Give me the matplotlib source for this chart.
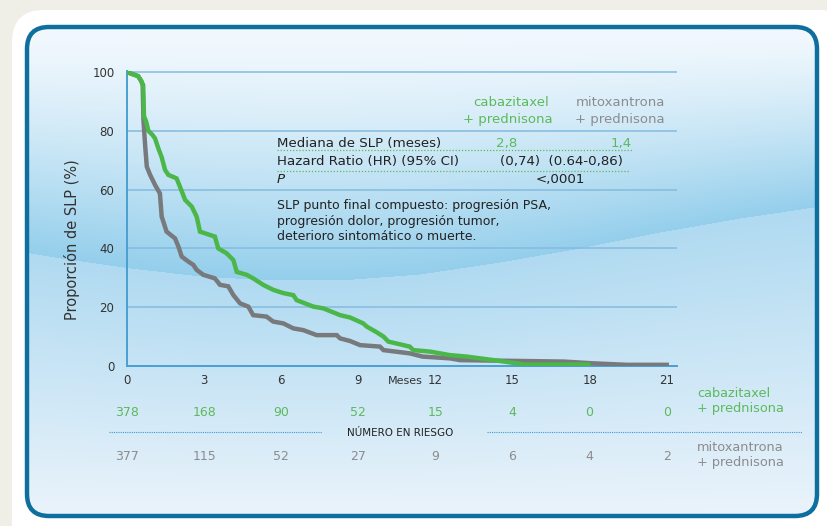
import numpy as np
import matplotlib
matplotlib.use('Agg')
import matplotlib.pyplot as plt
from matplotlib.patches import FancyBboxPatch
from matplotlib.transforms import blended_transform_factory


# progression-free survival curves (months, %)
cab_t = [0, 0.2, 0.43, 0.55, 0.63, 0.66, 0.75, 0.83, 1.0, 1.09, 1.22, 1.35, 1.48, 1.61, 1.93, 2.06,
         2.26, 2.52, 2.71, 2.84, 3.42, 3.55, 3.88, 4.14, 4.27, 4.66, 4.91, 5.3, 5.69, 6.08,
         6.47, 6.6, 7.25, 7.64, 8.29, 8.68, 9.19, 9.33, 9.71, 9.98, 10.17, 11.0, 11.14,
         11.79, 12.57, 13.22, 14.26, 15.16, 15.42, 17.95]
cab_s = [100, 99.3, 98.6, 97, 95.5, 85, 83, 80, 78.5, 77.4, 74, 71, 66.7, 65, 63.8, 61,
         56.5, 54.2, 50.8, 45.7, 44, 40, 38.3, 36, 32, 31, 29.8, 27.6, 25.9, 24.8,
         24.1, 22.4, 20.2, 19.6, 17.3, 16.5, 14.5, 13.4, 11.5, 10, 8.3, 6.6, 5.4,
         4.9, 3.7, 3.2, 2.0, 0.9, 0.5, 0.5]

mit_t = [0, 0.2, 0.43, 0.55, 0.61, 0.64, 0.7, 0.77, 0.9, 1.09, 1.28, 1.35, 1.54, 1.87, 2.0, 2.13,
         2.39, 2.58, 2.71, 2.97, 3.42, 3.62, 3.94, 4.14, 4.4, 4.72, 4.91, 5.43, 5.69, 6.08,
         6.47, 6.86, 7.38, 8.16, 8.29, 8.68, 9.07, 9.84, 9.98, 11.0, 11.5, 12.57, 12.96, 17.0,
         18.15, 19.45, 21.0]
mit_s = [100, 99.3, 98.6, 97, 95.5, 83.7, 75.7, 67.8, 65, 61.6, 58.7, 50.8, 45.7, 43.4, 40.6, 37.2,
         35.5, 34.4, 32.7, 31, 29.8, 27.6, 27.1, 24.1, 21.3, 20.2, 17.3, 16.8, 15.1, 14.5,
         12.8, 12.2, 10.5, 10.5, 9.4, 8.5, 7.1, 6.6, 5.4, 4.3, 3.2, 2.6, 2.0, 1.5,
         0.9, 0.4, 0.4]

risk_months = [0, 3, 6, 9, 12, 15, 18, 21]
cab_risk = [378, 168, 90, 52, 15, 4, 0, 0]
mit_risk = [377, 115, 52, 27, 9, 6, 4, 2]

x_ticks = [0, 3, 6, 9, 12, 15, 18, 21]
y_ticks = [0, 20, 40, 60, 80, 100]

GREEN = '#4cb749'
GREEN_TXT = '#5cba5c'
GRAY = '#78797c'
GRAY_TXT = '#8b8c8e'
BLUE = '#0e6f9f'
W, H = 827, 526

fig = plt.figure(figsize=(W / 100, H / 100), dpi=100, facecolor='#efeee7')

# background: white card + blue rounded frame with gradient fill
bg = fig.add_axes([0, 0, 1, 1])
bg.set_xlim(0, W)
bg.set_ylim(H, 0)
bg.axis('off')
bg.add_patch(FancyBboxPatch((12, 10), 840, 560, boxstyle='round,pad=0,rounding_size=32',
                            fc='white', ec='none'))
frame = FancyBboxPatch((27, 27), 790, 489, boxstyle='round,pad=0,rounding_size=22',
                       fc='none', ec=BLUE, lw=3.2, zorder=3)
bg.add_patch(frame)

yy, xx = np.mgrid[0:H, 0:W].astype(float)
edge = np.interp(xx[0], [0, 60, 130, 200, 270, 340, 420, 500, 580, 660, 740, 827],
                 [248, 258, 268, 276, 280, 280, 274, 262, 248, 232, 218, 205])
edge = np.broadcast_to(edge, (H, W))
top_c = np.array([0.95, 0.975, 0.995])
dark_c = np.array([0.58, 0.81, 0.925])
low_c = np.array([0.69, 0.855, 0.945])
bot_c = np.array([0.92, 0.955, 0.985])
t_up = np.clip((yy - 28) / (edge - 28), 0, 1)[..., None] ** 1.3
t_dn = np.clip((yy - edge) / (516 - edge), 0, 1)[..., None]
img = np.where((yy < edge)[..., None],
               top_c + (dark_c - top_c) * t_up,
               low_c + (bot_c - low_c) * t_dn)
im = bg.imshow(img, extent=(0, W, H, 0), aspect='auto', zorder=1)
im.set_clip_path(frame)

# chart
ax = fig.add_axes([127 / W, (H - 366) / H, 550 / W, (366 - 70.5) / H], zorder=2)
ax.patch.set_alpha(0)
ax.set_xlim(0, 21.4)
ax.set_ylim(0, 100.5)
ax.set_xticks(x_ticks)
ax.set_yticks(y_ticks)
for y in y_ticks[1:]:
    ax.axhline(y, color='#84bbdf', lw=1.1, zorder=1)
for s in ['top', 'right']:
    ax.spines[s].set_visible(False)
for s in ['left', 'bottom']:
    ax.spines[s].set_color('#4a9fd2')
    ax.spines[s].set_linewidth(1.4)
ax.tick_params(axis='x', length=0, pad=6, labelsize=8.5, colors='#333333')
ax.tick_params(axis='y', length=0, pad=9, labelsize=8.5, colors='#333333')

ax.plot(mit_t, mit_s, color=GRAY, lw=3.2, zorder=3, solid_joinstyle='miter')
ax.plot(cab_t, cab_s, color=GREEN, lw=3.2, zorder=4, solid_joinstyle='miter')

# overlay for text, in pixel coordinates
tx = fig.add_axes([0, 0, 1, 1], zorder=5)
tx.set_xlim(0, W)
tx.set_ylim(H, 0)
tx.axis('off')
tx.patch.set_alpha(0)

fig.text(72 / W, 1 - 240 / H, 'Proporción de SLP (%)', rotation=90, ha='center', va='center',
         fontsize=10.5, color='#333333')
tx.text(405, 381, 'Meses', ha='center', va='center', fontsize=8, color='#333333')

# table
tx.text(511, 103, 'cabazitaxel', ha='center', va='center', fontsize=9.5, color=GREEN_TXT)
tx.text(508, 119, '+ prednisona', ha='center', va='center', fontsize=9.5, color=GREEN_TXT)
tx.text(620, 103, 'mitoxantrona', ha='center', va='center', fontsize=9.5, color=GRAY_TXT)
tx.text(620, 119, '+ prednisona', ha='center', va='center', fontsize=9.5, color=GRAY_TXT)

tx.text(277, 143, 'Mediana de SLP (meses)', ha='left', va='center', fontsize=9.6, color='#222222')
tx.text(507, 143, '2,8', ha='center', va='center', fontsize=9.6, color=GREEN_TXT)
tx.text(632, 143, '1,4', ha='right', va='center', fontsize=9.6, color=GREEN_TXT)
tx.plot([277, 632], [150, 150], ls=(0, (1, 1.5)), color=GREEN_TXT, lw=0.9)
tx.text(277, 161.5, 'Hazard Ratio (HR) (95% CI)', ha='left', va='center', fontsize=9.6, color='#222222')
tx.text(500, 161.5, '(0,74)  (0.64-0,86)', ha='left', va='center', fontsize=9.6, color='#222222')
tx.plot([277, 630], [171, 171], ls=(0, (1, 1.5)), color=GREEN_TXT, lw=0.9)
tx.text(277, 179.5, 'P', ha='left', va='center', fontsize=9.6, style='italic', color='#222222')
tx.text(560, 179.5, '<,0001', ha='center', va='center', fontsize=9.6, color='#222222')
tx.text(277, 221, 'SLP punto final compuesto: progresión PSA,\nprogresión dolor, progresión tumor,\n'
        'deterioro sintomático o muerte.', ha='left', va='center', fontsize=9,
        color='#222222', linespacing=1.2)

# number at risk
trans = blended_transform_factory(ax.transData, tx.transData)
for m, c, g in zip(risk_months, cab_risk, mit_risk):
    tx.text(m, 413, str(c), transform=trans, ha='center', va='center', fontsize=9,
            color=GREEN_TXT)
    tx.text(m, 456, str(g), transform=trans, ha='center', va='center', fontsize=9,
            color=GRAY_TXT)
tx.plot([109, 322], [432, 432], ls=(0, (1, 1)), color='#3a9ad9', lw=0.8)
tx.plot([487, 802], [432, 432], ls=(0, (1, 1)), color='#3a9ad9', lw=0.8)
tx.text(400, 433, 'NÚMERO EN RIESGO', ha='center', va='center', fontsize=7.5,
        color='#222222')
tx.text(697, 401, 'cabazitaxel\n+ prednisona', ha='left', va='center', fontsize=9.3,
        color=GREEN_TXT, linespacing=1.15)
tx.text(697, 455, 'mitoxantrona\n+ prednisona', ha='left', va='center', fontsize=9.3,
        color=GRAY_TXT, linespacing=1.15)

fig.savefig('out.png', dpi=100, facecolor=fig.get_facecolor())
